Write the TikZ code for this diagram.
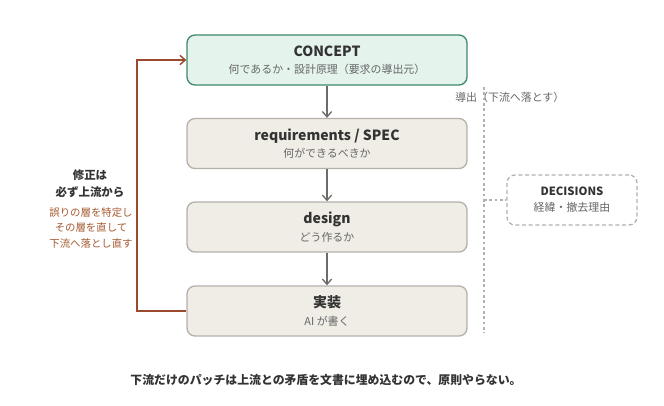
\documentclass[tikz,border=0pt]{standalone}
\usepackage{fontspec}
\setmainfont{Noto Sans CJK JP}
\usetikzlibrary{arrows.meta,positioning}
\definecolor{cfill}{HTML}{E4F3EC}
\definecolor{cdraw}{HTML}{3F8A6E}
\definecolor{bfill}{HTML}{F0EDE6}
\definecolor{bdraw}{HTML}{B4B1AA}
\definecolor{tdark}{HTML}{333333}
\definecolor{tgrey}{HTML}{666666}
\definecolor{fb}{HTML}{9C4A2E}
\definecolor{fbt}{HTML}{A5582F}
\definecolor{arr}{HTML}{6E6C68}
\tikzset{
  layer/.style={draw=bdraw, fill=bfill, line width=1pt, rounded corners=6pt, minimum width=210pt, minimum height=37.5pt, align=center, inner sep=0pt},
  conc/.style={layer, draw=cdraw, fill=cfill},
  down/.style={draw=arr, line width=1pt, -{Straight Barb[length=4pt,width=7pt]}},
}
\newcommand{\sub}[1]{{\fontsize{8.2}{10}\selectfont\color{tgrey}#1}}
\newcommand{\ttlx}[1]{\textcolor{tdark}{\fontsize{10.5}{12}\selectfont\bfseries #1}}
\begin{document}
\begin{tikzpicture}[x=0.75pt,y=-0.75pt]
\useasboundingbox (0,0) rectangle (664,405);
\node[conc] (concept) at (327,60) {\ttlx{CONCEPT}\\[1pt]\sub{何であるか・設計原理（要求の導出元）}};
\node[layer] (req) at (327,143.5) {\ttlx{requirements / SPEC}\\[1pt]\sub{何ができるべきか}};
\node[layer] (design) at (327,227) {\ttlx{design}\\[1pt]\sub{どう作るか}};
\node[layer] (impl) at (327,311) {\ttlx{実装}\\[1pt]\sub{AI が書く}};
\draw[down] (concept) -- (req);
\draw[down] (req) -- (design);
\draw[down] (design) -- (impl);
% derivation dotted line
\coordinate (dtop) at (484,87);
\coordinate (dbot) at (484,333);
\draw[bdraw, line width=1pt, dash pattern=on 2pt off 2pt] (dtop) -- (dbot);
\node[anchor=west, inner sep=0pt] (dlab) at (455,97) {\sub{導出（下流へ落とす）}};
\node[draw=bdraw, line width=1pt, dash pattern=on 3pt off 2pt, rounded corners=6pt, minimum width=97.5pt, minimum height=37.5pt, align=center, inner sep=0pt] (dec) at (572,200) {\textcolor{tdark}{\fontsize{8.5}{10}\selectfont\bfseries DECISIONS}\\[0pt]\sub{経緯・撤去理由}};
\coordinate (dmid) at (484,200);
\draw[bdraw, line width=1pt, dash pattern=on 2pt off 2pt] (dmid) -- (dec.west);
% feedback
\coordinate (fl1) at (137,311);
\coordinate (fl2) at (137,60);
\draw[fb, line width=1.1pt, -{Straight Barb[length=4pt,width=7pt]}] (impl.west) -- (fl1) -- (fl2) -- (concept.west);
\node[align=center, inner sep=0pt, text=tdark, font=\fontsize{8.6}{13}\selectfont\bfseries] (fbh) at (90,183.5) {修正は\\必ず上流から};
\node[align=center, inner sep=0pt, text=fbt, font=\fontsize{7.8}{11.3}\selectfont] (fbb) at (91,228) {誤りの層を特定し\\その層を直して\\下流へ落とし直す};
\node[inner sep=0pt, text=tdark, font=\fontsize{8.9}{10}\selectfont\bfseries] (foot) at (326,380) {下流だけのパッチは上流との矛盾を文書に埋め込むので、原則やらない。};
\end{tikzpicture}
\end{document}
